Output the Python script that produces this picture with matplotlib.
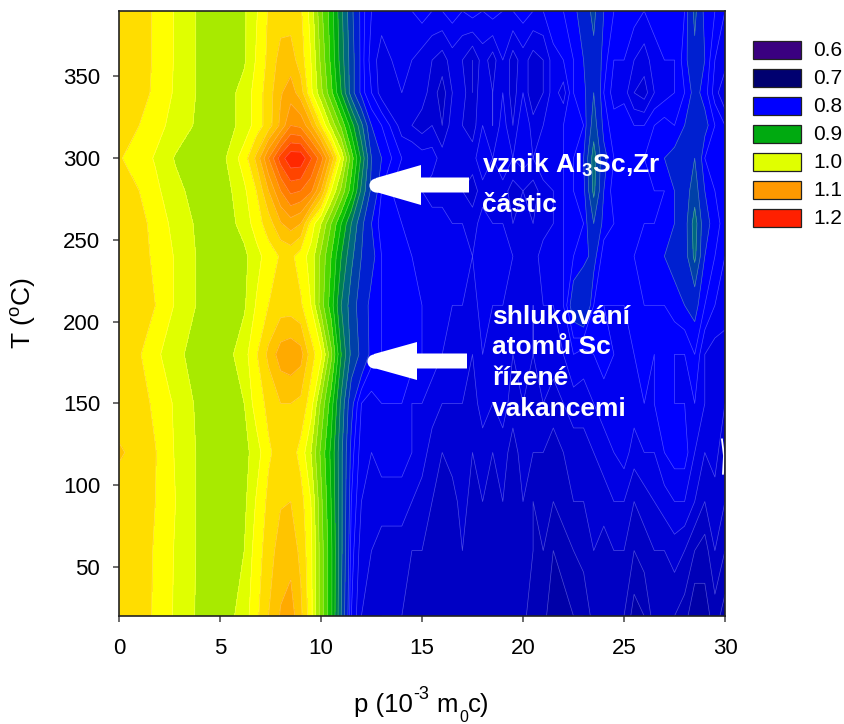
import numpy as np
import matplotlib
matplotlib.use("Agg")
import matplotlib.pyplot as plt
from matplotlib.colors import ListedColormap, BoundaryNorm
from matplotlib.patches import Rectangle, Polygon
from matplotlib.lines import Line2D

plt.rcParams['font.family'] = ['Liberation Sans', 'DejaVu Sans']
plt.rcParams['mathtext.fontset'] = 'custom'
plt.rcParams['mathtext.rm'] = 'Liberation Sans'
plt.rcParams['mathtext.bf'] = 'Liberation Sans:bold'
plt.rcParams['mathtext.default'] = 'regular'

p_left = [0, 1, 1.8, 2.8, 3.8, 5, 6.2, 6.8, 7.4, 8, 8.5, 9, 9.5, 10, 10.5, 11, 11.5, 12, 12.5, 13]
p_right = [14, 14.5, 15, 15.5, 16, 16.5, 17, 17.5, 18, 18.5, 19, 19.5, 20, 20.5, 21, 21.5, 22, 22.5, 23, 23.5,
           24, 24.5, 25, 25.5, 26, 26.5, 27, 27.5, 28, 28.5, 29, 29.5, 30]
T_values = [20, 60, 90, 120, 150, 180, 210, 240, 260, 280, 300, 320, 340, 360, 390]

z_left = [
 [1.05,1.05,1.037,1.017,.999,.985,1.01,1.035,1.06,1.082,1.09,1.065,1.027,.97,.925,.86,.80,.78,.775,.77],
 [1.05,1.05,1.038,1.018,1.0,.985,1.0,1.03,1.05,1.07,1.072,1.055,1.025,.97,.925,.865,.805,.785,.78,.775],
 [1.052,1.052,1.04,1.02,1.0,.985,.995,1.022,1.045,1.058,1.06,1.048,1.02,.965,.92,.865,.81,.79,.785,.785],
 [1.062,1.055,1.041,1.018,1.0,.987,.993,1.01,1.037,1.048,1.05,1.033,1.0,.955,.915,.865,.815,.795,.79,.795],
 [1.052,1.05,1.035,1.017,.998,.985,1.0,1.03,1.045,1.06,1.06,1.055,1.03,.975,.93,.875,.825,.80,.795,.80],
 [1.045,1.042,1.025,1.006,.992,.985,1.012,1.038,1.065,1.09,1.095,1.088,1.05,1.025,.965,.90,.855,.835,.815,.81],
 [1.05,1.05,1.04,1.018,1.0,.985,.997,1.022,1.04,1.05,1.05,1.043,1.02,.97,.93,.88,.85,.83,.815,.81],
 [1.05,1.048,1.036,1.018,1.0,.985,.995,1.012,1.03,1.042,1.045,1.03,1.012,.975,.94,.90,.865,.84,.825,.81],
 [1.05,1.047,1.033,1.013,.998,.985,1.008,1.03,1.05,1.078,1.09,1.08,1.032,1.0,.96,.92,.88,.845,.82,.805],
 [1.047,1.04,1.025,1.006,.993,.985,1.016,1.04,1.08,1.12,1.145,1.14,1.125,1.08,1.02,.975,.93,.875,.835,.81],
 [1.042,1.03,1.018,.998,.988,.99,1.03,1.065,1.12,1.17,1.195,1.195,1.162,1.13,1.075,1.015,.95,.895,.84,.82],
 [1.05,1.04,1.028,1.012,.998,.985,1.008,1.028,1.05,1.085,1.12,1.115,1.085,1.04,.995,.955,.91,.865,.82,.81],
 [1.05,1.05,1.035,1.017,1.0,.985,1.008,1.028,1.05,1.078,1.09,1.07,1.025,.985,.945,.90,.85,.815,.80,.785],
 [1.05,1.05,1.037,1.018,1.0,.985,.997,1.022,1.045,1.068,1.07,1.05,1.02,.975,.935,.89,.85,.815,.795,.785],
 [1.05,1.05,1.037,1.018,1.0,.985,.997,1.018,1.042,1.05,1.05,1.043,1.012,.965,.93,.885,.845,.815,.80,.795],
]
z_right = [
 [.77,.765,.765,.76,.765,.765,.765,.76,.765,.76,.77,.76,.765,.75,.755,.74,.745,.75,.75,.765,.76,.765,.76,.745,.75,.765,.765,.76,.755,.74,.745,.755,.745],
 [.775,.77,.77,.765,.77,.765,.77,.765,.77,.765,.77,.765,.765,.76,.76,.75,.755,.76,.765,.77,.765,.77,.77,.76,.765,.77,.77,.775,.77,.76,.755,.77,.76],
 [.785,.78,.775,.77,.77,.765,.775,.765,.77,.765,.77,.765,.77,.76,.765,.76,.765,.77,.77,.775,.775,.78,.78,.77,.775,.78,.785,.79,.79,.78,.77,.775,.77],
 [.795,.79,.785,.775,.77,.775,.775,.77,.775,.77,.775,.765,.775,.77,.77,.765,.77,.775,.775,.78,.785,.79,.795,.785,.79,.79,.80,.805,.805,.79,.78,.785,.77],
 [.80,.79,.79,.785,.78,.78,.78,.775,.785,.78,.785,.775,.78,.775,.78,.775,.78,.785,.785,.79,.795,.80,.80,.795,.80,.80,.81,.80,.80,.80,.79,.785,.78],
 [.81,.805,.80,.795,.79,.785,.785,.78,.79,.785,.79,.78,.785,.78,.785,.785,.79,.80,.795,.80,.805,.80,.80,.80,.805,.80,.805,.80,.80,.81,.79,.785,.785],
 [.81,.805,.80,.795,.795,.79,.79,.785,.795,.79,.79,.785,.785,.78,.79,.79,.80,.83,.84,.81,.80,.80,.80,.805,.81,.81,.81,.815,.82,.825,.81,.80,.795],
 [.81,.80,.80,.80,.80,.795,.795,.79,.80,.795,.795,.79,.79,.785,.795,.80,.80,.81,.815,.825,.805,.81,.81,.81,.815,.815,.82,.825,.83,.865,.82,.81,.80],
 [.80,.80,.80,.795,.795,.79,.79,.785,.795,.79,.79,.78,.785,.78,.785,.79,.80,.805,.81,.84,.815,.81,.81,.81,.81,.81,.815,.82,.83,.87,.825,.815,.805],
 [.79,.79,.79,.785,.785,.785,.78,.775,.785,.78,.785,.775,.78,.775,.785,.79,.80,.81,.815,.865,.82,.805,.80,.805,.805,.81,.81,.82,.83,.85,.82,.81,.80],
 [.80,.80,.795,.795,.785,.79,.785,.785,.80,.79,.80,.79,.795,.79,.80,.80,.80,.81,.82,.87,.825,.81,.805,.81,.81,.815,.82,.825,.835,.84,.81,.805,.80],
 [.785,.78,.775,.78,.77,.785,.78,.775,.79,.78,.795,.78,.80,.785,.79,.80,.80,.805,.81,.85,.815,.805,.81,.80,.80,.81,.815,.81,.82,.83,.825,.81,.80],
 [.79,.785,.785,.775,.765,.78,.785,.77,.79,.78,.79,.775,.79,.77,.78,.795,.785,.81,.815,.84,.81,.795,.795,.78,.775,.79,.795,.80,.81,.825,.815,.795,.78],
 [.795,.79,.785,.78,.775,.785,.78,.77,.785,.775,.79,.775,.785,.775,.78,.795,.80,.81,.82,.835,.815,.80,.80,.79,.785,.795,.80,.80,.815,.835,.82,.80,.795],
 [.80,.80,.805,.80,.80,.805,.80,.805,.80,.805,.80,.80,.805,.80,.80,.81,.81,.815,.83,.845,.82,.81,.81,.805,.80,.805,.81,.805,.81,.845,.815,.81,.80],
]

band_edges = [0.70, 0.72, 0.73, 0.74, 0.75, 0.76, 0.77, 0.78, 0.79, 0.80, 0.81, 0.82, 0.84, 0.86, 0.88, 0.90,
              0.92, 0.94, 0.96, 0.98, 1.00, 1.02, 1.04, 1.06, 1.08, 1.10, 1.12, 1.14, 1.16, 1.18, 1.20]
band_colors = ['#000070', '#000090', '#00009c', '#0000a8', '#0000b8', '#0000c4', '#0000d4', '#0000e4', '#0000f0',
               '#0000ff', '#0000ff', '#0020d0', '#0040a8', '#006880', '#008050', '#00aa10', '#10c400', '#50d800',
               '#80e000', '#a8ea00', '#e0ff00', '#ffff00', '#ffdd00', '#ffc400', '#ffaa00', '#ff9900', '#ff7f00',
               '#ff6600', '#ff4400', '#ff2800']
legend_labels = ['0.6', '0.7', '0.8', '0.9', '1.0', '1.1', '1.2']
legend_colors = ['#3a0080', '#000070', '#0000ff', '#00aa10', '#e0ff00', '#ff9900', '#ff2000']

W, H = 845, 724
fig = plt.figure(figsize=(W / 100, H / 100), dpi=100)
L, R, TOP, BOT = 119, 725, 11, 616
ax = fig.add_axes([L / W, 1 - BOT / H, (R - L) / W, (BOT - TOP) / H])

p_values = p_left + p_right
Z = np.hstack([np.array(z_left), np.array(z_right)])
cmap = ListedColormap(band_colors)
norm = BoundaryNorm(band_edges, cmap.N)
ax.contourf(p_values, T_values, Z, levels=band_edges, cmap=cmap, norm=norm, antialiased=False)
ax.contour(p_values, T_values, Z, levels=band_edges, colors='white', linewidths=0.5, alpha=0.3)
ax.plot([29.85, 29.95, 29.9], [128, 118, 107], color='white', lw=1.3)

ax.set_xlim(0, 30)
ax.set_ylim(20, 390)
ax.set_xticks(range(0, 31, 5))
ax.set_yticks(range(50, 351, 50))
ax.tick_params(direction='out', length=4.5, width=1.1, labelsize=16, color='#444444')
ax.tick_params(axis='x', pad=11)
ax.tick_params(axis='y', pad=9)
for s in ax.spines.values():
    s.set_linewidth(1.2)
    s.set_color('#222222')


def px(x, y):
    """figure pixel (from top-left) to figure fraction"""
    return x / W, 1 - y / H


def arrow(centre_x, y, neck_x, tail_x, half_tail, half_head):
    pts = [(tail_x, y - half_tail), (neck_x, y - half_tail), (neck_x, y - half_head),
           (centre_x, y - 7), (centre_x, y + 7), (neck_x, y + half_head),
           (neck_x, y + half_tail), (tail_x, y + half_tail)]
    fig.add_artist(Polygon([px(a, b) for a, b in pts], closed=True, transform=fig.transFigure,
                           facecolor='white', edgecolor='white', linewidth=0, zorder=5))
    cx, cy = px(centre_x, y)
    fig.add_artist(Line2D([cx], [cy], marker='o', markersize=10.2, color='white', markeredgewidth=0,
                          transform=fig.transFigure, zorder=5))


arrow(376, 185, 421, 469, 7.5, 20)
arrow(374, 361, 417, 467, 7.5, 19)

bold = dict(color='white', fontsize=19, fontweight='bold', ha='left', va='baseline',
            transform=fig.transFigure, zorder=6)
fig.text(*px(482, 173), r'vznik Al$_{\mathbf{3}}$Sc,Zr', **bold)
fig.text(*px(482, 212), 'částic', **bold)
fig.text(*px(492, 324), 'shlukování', **bold)
fig.text(*px(492, 354), 'atomů Sc', **bold)
fig.text(*px(492, 385), 'řízené', **bold)
fig.text(*px(492, 416), 'vakancemi', **bold)

fig.text(*px(24, 313), 'T ($^{o}$C)', rotation=90, fontsize=19, ha='center', va='center')

xlabel_style = dict(ha='left', va='baseline', color='black')
fig.text(*px(354, 712), 'p (10', fontsize=18.5, **xlabel_style)
fig.text(*px(413, 699), '-3', fontsize=13, **xlabel_style)
fig.text(*px(436, 712), 'm', fontsize=18.5, **xlabel_style)
fig.text(*px(459, 722.5), '0', fontsize=11.5, **xlabel_style)
fig.text(*px(468, 712), 'c)', fontsize=18.5, **xlabel_style)

for i, (lab, col) in enumerate(zip(legend_labels, legend_colors)):
    y0 = 41 + 28 * i
    x0, y1 = px(753, y0 + 18)
    fig.add_artist(Rectangle((x0, y1), 48 / W, 18 / H, transform=fig.transFigure,
                             facecolor=col, edgecolor='#222222', linewidth=0.9))
    fig.text(*px(813, y0 + 9.5), lab, fontsize=15, ha='left', va='center')

fig.savefig('out.png', dpi=100)
